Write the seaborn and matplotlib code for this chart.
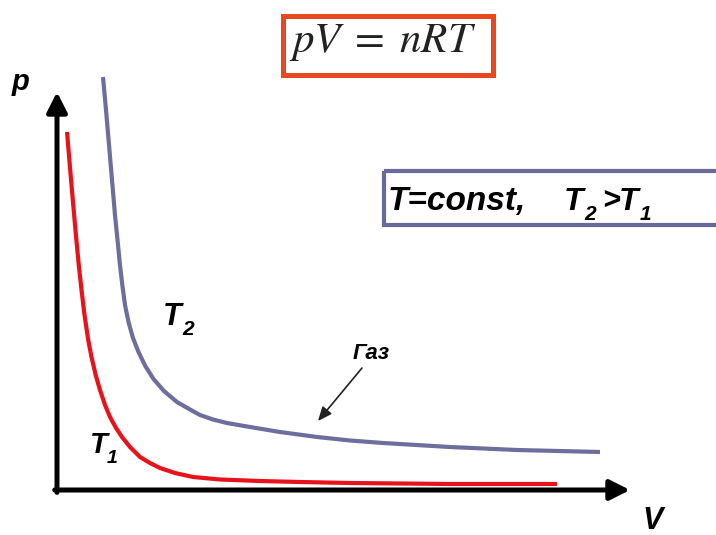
import matplotlib
matplotlib.use("Agg")
import matplotlib.pyplot as plt
import matplotlib.transforms as mtransforms
from matplotlib.patches import Rectangle
import seaborn as sns
import pandas as pd

# Isotherms p(V) for two temperatures (arbitrary units, axes run 0..10)
V_T1 = [0.175, 0.223, 0.276, 0.330, 0.380, 0.428, 0.480, 0.545, 0.602, 0.675, 0.750,
        0.838, 0.925, 1.030, 1.134, 1.274, 1.449, 1.623, 1.798, 2.059, 2.373, 2.845,
        3.543, 4.241, 5.113, 6.859, 8.726]
p_T1 = [8.995, 8.166, 7.286, 6.407, 5.653, 5.025, 4.397, 3.769, 3.342, 2.889, 2.513,
        2.136, 1.834, 1.558, 1.332, 1.080, 0.829, 0.678, 0.553, 0.427, 0.327, 0.264,
        0.226, 0.201, 0.176, 0.151, 0.151]

V_T2 = [0.803, 0.855, 0.908, 0.960, 1.012, 1.065, 1.099, 1.140, 1.187, 1.248, 1.326,
        1.422, 1.541, 1.684, 1.867, 2.094, 2.321, 2.496, 2.723, 2.967, 3.368, 3.892,
        4.538, 5.113, 5.689, 6.859, 8.028, 9.476]
p_T2 = [10.377, 9.548, 8.668, 7.789, 6.910, 6.156, 5.653, 5.151, 4.648, 4.221, 3.819,
        3.467, 3.116, 2.789, 2.487, 2.211, 2.023, 1.884, 1.771, 1.683, 1.583, 1.457,
        1.332, 1.244, 1.181, 1.080, 1.005, 0.955]

AXIS_MAX = 10

RED = "#E8121A"
SLATE = "#6E6E9E"
ORANGE = "#E9481F"
BOX2 = "#6A6A9A"

sns.set_theme(style="white")
plt.rcParams["font.family"] = ["Liberation Sans", "DejaVu Sans"]

W, H = 716, 535
fig = plt.figure(figsize=(W / 100, H / 100), dpi=100)
ax = fig.add_axes([0, 0, 1, 1])

# origin of the p-V axes in pixels and pixels per unit
ox, oy = 57, 490
sx, sy = 57.3, 39.8
ax.set_xlim(-ox / sx, (W - ox) / sx)
ax.set_ylim(-(H - oy) / sy, oy / sy)
ax.axis("off")

# pixel-based transform for annotations (y measured from the top)
px = mtransforms.Affine2D().scale(1 / W, -1 / H).translate(0, 1) + fig.transFigure

df1 = pd.DataFrame({"V": V_T1, "p": p_T1})
df2 = pd.DataFrame({"V": V_T2, "p": p_T2})
line_kw = dict(lw=3.0, sort=False, estimator=None, solid_joinstyle="round",
               solid_capstyle="butt")
sns.lineplot(data=df1, x="V", y="p", ax=ax, color=RED, **line_kw)
sns.lineplot(data=df2, x="V", y="p", ax=ax, color=SLATE, **line_kw)

# axes with arrowheads
arrow = dict(arrowstyle="-|>,head_length=0.75,head_width=0.38", lw=3.6, color="black",
             mutation_scale=16, shrinkA=0, shrinkB=0)
ax.annotate("", xy=(0, AXIS_MAX), xytext=(0, -0.06), arrowprops=arrow)
ax.annotate("", xy=(AXIS_MAX, 0), xytext=(-0.04, 0), arrowprops=arrow)

bold_it = dict(fontweight="bold", fontstyle="italic", color="black",
               family=["Liberation Sans", "DejaVu Sans"], transform=px, va="baseline")

ax.text(12, 90, "p", fontsize=21, **bold_it)
ax.text(642, 529, "V", fontsize=22, **bold_it)

# curve labels
ax.text(163, 325, "T", fontsize=22, **bold_it)
ax.text(182, 335, "2", fontsize=15, **bold_it)
ax.text(90, 453, "T", fontsize=21, **bold_it)
ax.text(107, 463, "1", fontsize=14, **bold_it)

ax.text(353, 359, "Газ", fontsize=16, **bold_it)
ax.annotate("", xy=(318, 421), xytext=(362, 368), xycoords=px, textcoords=px,
            arrowprops=dict(arrowstyle="-|>,head_length=0.7,head_width=0.3", lw=1.2,
                            color="#222222", mutation_scale=12, shrinkA=0, shrinkB=0))

# equation box
ax.add_patch(Rectangle((282.5, 15.5), 210, 59, fill=False, ec=ORANGE, lw=3.6,
                       transform=px, clip_on=False))
ax.text(383, 52, r"$pV\;=\;nRT$", fontsize=31, math_fontfamily="stix", color="#222222",
        ha="center", va="baseline", transform=px)

# condition box
ax.add_patch(Rectangle((384, 171), 340, 54, fill=False, ec=BOX2, lw=3.0,
                       transform=px, clip_on=False))
ax.text(388, 210, "T=const,", fontsize=24, **bold_it)
ax.text(564, 210, "T", fontsize=23, **bold_it)
ax.text(584, 220, "2", fontsize=15, **bold_it)
ax.text(602, 210, ">", fontsize=22, **bold_it)
ax.text(619, 210, "T", fontsize=23, **bold_it)
ax.text(640, 220, "1", fontsize=15, **bold_it)

fig.savefig("out.png", dpi=100)
